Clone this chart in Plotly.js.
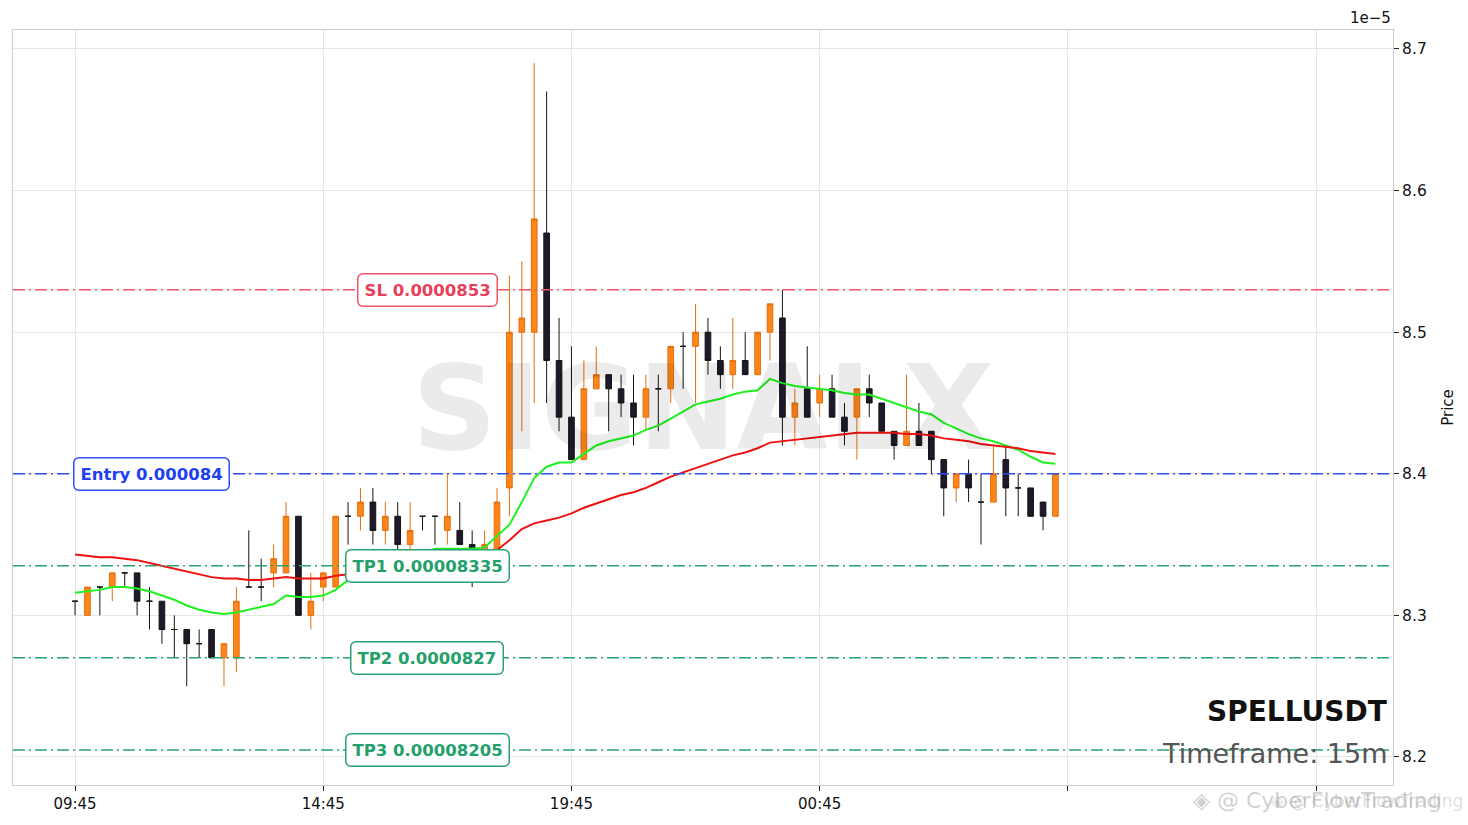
<!DOCTYPE html>
<html>
<head>
<meta charset="utf-8">
<script src="https://cdn.plot.ly/plotly-3.0.1.min.js"></script>
<style>
  html, body { margin: 0; padding: 0; background: #fff; }
  #chart { width: 1468px; height: 825px; }
</style>
</head>
<body>
<div id="chart"></div>
<script>
// SPELLUSDT 15m, prices in units of 1e-5, first candle 09:45
const opens  = [8.31,8.30,8.32,8.32,8.33,8.33,8.31,8.31,8.29,8.29, 8.28,8.29,8.27,8.27,8.32,8.32,8.33,8.33,8.37,8.30,
                8.32,8.32,8.37,8.37,8.38,8.36,8.37,8.35,8.37,8.37, 8.36,8.36,8.35,8.34,8.34,8.39,8.50,8.50,8.57,8.48,
                8.44,8.41,8.46,8.47,8.46,8.45,8.44,8.46,8.46,8.49, 8.49,8.50,8.48,8.47,8.48,8.47,8.50,8.51,8.44,8.46,
                8.45,8.46,8.44,8.44,8.46,8.45,8.43,8.42,8.43,8.43, 8.41,8.39,8.40,8.38,8.38,8.41,8.39,8.39,8.38,8.37];
const highs  = [8.31,8.32,8.32,8.33,8.33,8.33,8.32,8.31,8.30,8.29, 8.29,8.29,8.28,8.32,8.36,8.34,8.35,8.38,8.37,8.33,
                8.33,8.37,8.38,8.39,8.39,8.38,8.38,8.38,8.37,8.37, 8.40,8.38,8.36,8.36,8.39,8.54,8.55,8.69,8.67,8.51,
                8.49,8.48,8.49,8.47,8.47,8.47,8.47,8.47,8.49,8.50, 8.52,8.51,8.49,8.51,8.50,8.50,8.52,8.53,8.46,8.49,
                8.47,8.47,8.45,8.46,8.47,8.45,8.43,8.47,8.45,8.43, 8.41,8.40,8.41,8.40,8.42,8.42,8.40,8.39,8.38,8.40];
const lows   = [8.30,8.30,8.30,8.31,8.32,8.30,8.29,8.28,8.27,8.25, 8.27,8.27,8.25,8.26,8.32,8.31,8.32,8.33,8.30,8.29,
                8.31,8.32,8.35,8.36,8.35,8.35,8.34,8.34,8.36,8.35, 8.35,8.35,8.32,8.34,8.34,8.37,8.43,8.45,8.45,8.43,
                8.41,8.41,8.46,8.43,8.44,8.42,8.43,8.43,8.45,8.46, 8.45,8.47,8.46,8.46,8.47,8.47,8.48,8.42,8.42,8.44,
                8.44,8.44,8.42,8.41,8.44,8.43,8.41,8.42,8.42,8.40, 8.37,8.38,8.38,8.35,8.38,8.37,8.37,8.37,8.36,8.37];
const closes = [8.31,8.32,8.32,8.33,8.33,8.31,8.31,8.29,8.29,8.28, 8.28,8.27,8.28,8.31,8.32,8.32,8.34,8.37,8.30,8.31,
                8.33,8.37,8.37,8.38,8.36,8.37,8.35,8.36,8.37,8.37, 8.37,8.35,8.34,8.35,8.38,8.50,8.51,8.58,8.48,8.44,
                8.41,8.46,8.47,8.46,8.45,8.44,8.46,8.46,8.49,8.49, 8.50,8.48,8.47,8.48,8.47,8.50,8.52,8.44,8.45,8.44,
                8.46,8.44,8.43,8.46,8.45,8.43,8.42,8.43,8.42,8.41, 8.39,8.40,8.39,8.38,8.40,8.39,8.39,8.37,8.37,8.40];

// moving averages
const maFast = [8.316,8.317,8.318,8.320,8.320,8.319,8.317,8.314,8.311,8.307, 8.304,8.302,8.301,8.302,8.304,8.306,8.308,8.314,8.313,8.313,
                8.314,8.318,8.325,8.330,8.333,8.336,8.338,8.341,8.344,8.347, 8.347,8.347,8.347,8.348,8.356,8.364,8.380,8.397,8.405,8.408,
                8.408,8.414,8.420,8.423,8.425,8.427,8.431,8.434,8.439,8.444, 8.449,8.451,8.453,8.456,8.458,8.459,8.467,8.464,8.462,8.461,
                8.460,8.459,8.457,8.456,8.456,8.453,8.450,8.447,8.444,8.442, 8.436,8.432,8.428,8.425,8.423,8.420,8.417,8.412,8.408,8.407];
const maSlow = [8.343,8.342,8.341,8.341,8.340,8.339,8.337,8.335,8.333,8.331, 8.329,8.327,8.326,8.326,8.325,8.325,8.326,8.327,8.326,8.326,
                8.326,8.328,8.329,8.331,8.333,8.334,8.335,8.336,8.338,8.339, 8.340,8.341,8.342,8.343,8.346,8.353,8.361,8.365,8.367,8.369,
                8.372,8.376,8.379,8.382,8.385,8.387,8.390,8.394,8.398,8.401, 8.404,8.407,8.410,8.413,8.415,8.418,8.422,8.423,8.424,8.425,
                8.426,8.427,8.428,8.429,8.429,8.429,8.429,8.428,8.428,8.427, 8.425,8.424,8.423,8.421,8.420,8.419,8.418,8.416,8.415,8.414];

const tickIdx    = [0, 20, 40, 60, 80, 100];
const tickLabels = ['09:45', '14:45', '19:45', '00:45', '', ''];
const priceTicks = [8.2, 8.3, 8.4, 8.5, 8.6, 8.7];

const levelNames  = ['SL', 'Entry', 'TP1', 'TP2', 'TP3'];
const levelPrices = [0.0000853, 0.000084, 0.00008335, 0.0000827, 0.00008205];
const levelLine   = ['#ee5566', '#2e4ff0', '#2aa272', '#2aa272', '#2aa272'];
const levelText   = ['#e8405a', '#2241ee', '#23a06a', '#23a06a', '#23a06a'];
const levelLabelX = [0.3, 0.1, 0.3, 0.3, 0.3];

const symbol = 'SPELLUSDT';
const timeframe = '15m';

const FONT = 'DejaVu Sans, Verdana, sans-serif';
const idx = opens.map((_, i) => i);
const up = i => closes[i] > opens[i];

function candles(keep, fill, line) {
  const sel = idx.filter(keep);
  const style = { line: { color: line, width: 1 }, fillcolor: fill };
  return {
    type: 'candlestick',
    x: sel,
    open: sel.map(i => opens[i]),
    high: sel.map(i => highs[i]),
    low: sel.map(i => lows[i]),
    close: sel.map(i => closes[i]),
    increasing: style, decreasing: style,
    whiskerwidth: 0, showlegend: false, hoverinfo: 'skip'
  };
}

var data = [
  candles(i => up(i), '#ff851b', '#e2700e'),
  candles(i => !up(i), '#1e1a2c', '#141414'),
  { type: 'scatter', mode: 'lines', x: idx, y: maFast, line: { color: '#1ef21e', width: 2 }, showlegend: false, hoverinfo: 'skip' },
  { type: 'scatter', mode: 'lines', x: idx, y: maSlow, line: { color: '#f01010', width: 2 }, showlegend: false, hoverinfo: 'skip' }
];

var shapes = levelPrices.map((p, k) => ({
  type: 'line', xref: 'paper', x0: 0, x1: 1, yref: 'y', y0: p * 1e5, y1: p * 1e5,
  line: { color: levelLine[k], width: 1.5, dash: '12px,4px,2px,4px' }, layer: 'above'
}));

var annotations = levelPrices.map((p, k) => ({
  xref: 'paper', x: levelLabelX[k], yref: 'y', y: p * 1e5,
  text: '<b>' + levelNames[k] + ' ' + String(p) + '</b>',
  showarrow: false, xanchor: 'center', yanchor: 'middle',
  font: { family: FONT, size: 16.5, color: levelText[k] },
  bgcolor: '#ffffff', bordercolor: levelLine[k], borderwidth: 1.5, borderpad: 6
}));
const nLabels = annotations.length;

annotations.push(
  { xref: 'paper', yref: 'paper', x: 0.5, y: 0.5, text: '<b>SIGNALX</b>', showarrow: false,
    font: { family: FONT, size: 118, color: 'rgba(0,0,0,0.08)' } },
  { xref: 'paper', yref: 'paper', x: 0.997, y: 0.098, xanchor: 'right', yanchor: 'middle',
    text: '<b>' + symbol + '</b>', showarrow: false,
    font: { family: FONT, size: 28, color: '#111111' } },
  { xref: 'paper', yref: 'paper', x: 0.997, y: 0.042, xanchor: 'right', yanchor: 'middle',
    text: 'Timeframe: ' + timeframe, showarrow: false,
    font: { family: FONT, size: 27, color: '#555555' } },
  { xref: 'paper', yref: 'paper', x: 1, y: 1.016, xanchor: 'right', yanchor: 'middle',
    text: '1e\u22125', showarrow: false, font: { family: FONT, size: 15, color: '#111111' } },
  { xref: 'paper', yref: 'paper', x: 0.8537, y: -0.021, xanchor: 'left', yanchor: 'middle',
    text: '\u25C8 @ CyberFlowTrading', showarrow: false,
    font: { family: FONT, size: 22, color: 'rgba(120,120,120,0.35)' } },
  { xref: 'paper', yref: 'paper', x: 0.9102, y: -0.021, xanchor: 'left', yanchor: 'middle',
    text: '\u25C8 @ CyberFlowTrading', showarrow: false,
    font: { family: FONT, size: 17, color: 'rgba(120,120,120,0.25)' } }
);

var layout = {
  width: 1468, height: 825,
  margin: { l: 13, r: 75, t: 30, b: 40 },
  paper_bgcolor: '#ffffff', plot_bgcolor: '#ffffff',
  font: { family: FONT, size: 15, color: '#111111' },
  showlegend: false,
  boxgap: 0.35,
  xaxis: {
    range: [-5, 106.2], tickvals: tickIdx, ticktext: tickLabels,
    showgrid: true, gridcolor: '#e6e6e6', gridwidth: 1,
    showline: true, mirror: true, linecolor: '#cccccc', linewidth: 1,
    ticks: 'outside', ticklen: 5, tickcolor: '#222222', zeroline: false,
    rangeslider: { visible: false }, fixedrange: true,
    tickfont: { family: FONT, size: 15, color: '#111111' }
  },
  yaxis: {
    side: 'right', range: [8.1802, 8.7134], tickvals: priceTicks,
    ticktext: priceTicks.map(v => v.toFixed(1)),
    showgrid: true, gridcolor: '#e6e6e6', gridwidth: 1,
    showline: true, mirror: true, linecolor: '#cccccc', linewidth: 1,
    ticks: 'outside', ticklen: 5, tickcolor: '#222222', zeroline: false,
    tickfont: { family: FONT, size: 15.5, color: '#111111' },
    title: { text: 'Price', font: { family: FONT, size: 15, color: '#111111' }, standoff: 16 }
  },
  shapes: shapes,
  annotations: annotations
};

Plotly.newPlot('chart', data, layout, { displayModeBar: false, staticPlot: true }).then(gd => {
  // rounded corners on the level label boxes
  gd.querySelectorAll('g.annotation').forEach(g => {
    const k = +g.getAttribute('data-index');
    if (k < nLabels) {
      const bg = g.querySelector('rect.bg');
      if (bg) { bg.setAttribute('rx', 5); bg.setAttribute('ry', 5); }
    }
  });
});
</script>
</body>
</html>
